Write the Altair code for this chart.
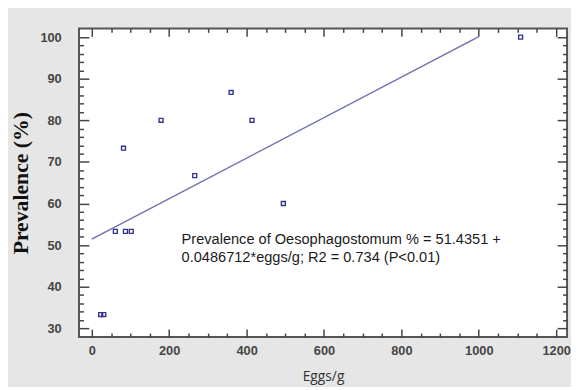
import altair as alt
import pandas as pd

# Observed data (eggs/g vs prevalence %)
eggs = [23, 31, 61, 87, 102, 82, 179, 266, 360, 414, 495, 1108]
prevalence = [33.3, 33.3, 53.3, 53.3, 53.3, 73.3, 80, 66.7, 86.7, 80, 60, 100]

# Regression line end points
line_x = [0, 1000]
line_y = [51.44, 100.11]

# Tick values
x_labels = [0, 200, 400, 600, 800, 1000, 1200]
x_ticks = list(range(0, 1250, 50))
y_labels = [30, 40, 50, 60, 70, 80, 90, 100]
y_ticks = list(range(30, 102, 2))

annotation = ["Prevalence of Oesophagostomum % = 51.4351 +",
              "0.0486712*eggs/g; R2 = 0.734 (P<0.01)"]
ann_x = [232]
ann_y = [51.1]

W, H = 495, 313
x_dom = [-33, 1228]
y_dom = [27.9, 102.1]

pts = pd.DataFrame({"eggs": eggs, "prev": prevalence})
ln = pd.DataFrame({"eggs": line_x, "prev": line_y})
ann = pd.DataFrame({"eggs": ann_x, "prev": ann_y, "t": [annotation]})

xs = alt.Scale(domain=x_dom, nice=False, zero=False)
ys = alt.Scale(domain=y_dom, nice=False, zero=False)

tick_col = "#444444"
x_tick_size = {"condition": {"test": "datum.value % 200 === 0", "value": 8}, "value": 4}
y_tick_size = {"condition": {"test": "datum.value % 10 === 0", "value": 10}, "value": 4.5}

points = alt.Chart(pts).mark_point(
    shape="square", filled=False, size=16, strokeWidth=1.4, color="#34348f", opacity=1
).encode(
    x=alt.X("eggs:Q", scale=xs, axis=alt.Axis(
        orient="bottom", values=x_labels, format="d", ticks=False, domain=False, grid=False,
        labelFont="Liberation Sans", labelFontSize=13, labelFontWeight="bold",
        labelColor="#454545", labelPadding=8,
        title="Eggs/g", titleFont="Open Sans", titleFontSize=14,
        titleFontWeight="normal", titleColor="#333333", titlePadding=12)),
    y=alt.Y("prev:Q", scale=ys, axis=alt.Axis(
        orient="left", values=y_labels, ticks=False, domain=False, grid=False,
        labelFont="Liberation Sans", labelFontSize=13, labelFontWeight="bold",
        labelColor="#454545", labelPadding=18,
        title="Prevalence (%)", titleFont="Liberation Serif", titleFontSize=22,
        titleFontWeight="bold", titleColor="#111111", titlePadding=8)),
)

line = alt.Chart(ln).mark_line(color="#7070b4", strokeWidth=1.5).encode(
    x=alt.X("eggs:Q", scale=xs, axis=alt.Axis(
        orient="top", offset=-H, values=x_ticks, labels=False, domain=False,
        grid=False, title=None, tickColor=tick_col, tickWidth=1.5,
        tickSize=x_tick_size)),
    y=alt.Y("prev:Q", scale=ys, axis=alt.Axis(
        orient="right", offset=-W, values=y_ticks, labels=False, domain=False,
        grid=False, title=None, tickColor=tick_col, tickWidth=1.5,
        tickSize=y_tick_size)),
)

text = alt.Chart(ann).mark_text(
    align="left", baseline="middle", font="Liberation Sans", fontSize=14.8,
    lineHeight=18, color="#1a1a1a"
).encode(
    x=alt.X("eggs:Q", scale=xs, axis=alt.Axis(
        orient="bottom", offset=-H, values=x_ticks, labels=False, domain=False,
        grid=False, title=None, tickColor=tick_col, tickWidth=1.5,
        tickSize=x_tick_size)),
    y=alt.Y("prev:Q", scale=ys, axis=alt.Axis(
        orient="left", offset=-W, values=y_ticks, labels=False, domain=False,
        grid=False, title=None, tickColor=tick_col, tickWidth=1.5,
        tickSize=y_tick_size)),
    text="t",
)

chart = alt.layer(line, points, text).resolve_axis(x="independent", y="independent").properties(
    width=W, height=H,
    autosize=alt.AutoSizeParams(type="none"),
    padding={"left": 72, "top": 18, "right": 4, "bottom": 48},
    background="#e6e6e6",
).configure_view(
    fill="white", stroke="#555555", strokeWidth=2
)

chart.save("out.html", embed_options={"renderer": "svg", "actions": False})
